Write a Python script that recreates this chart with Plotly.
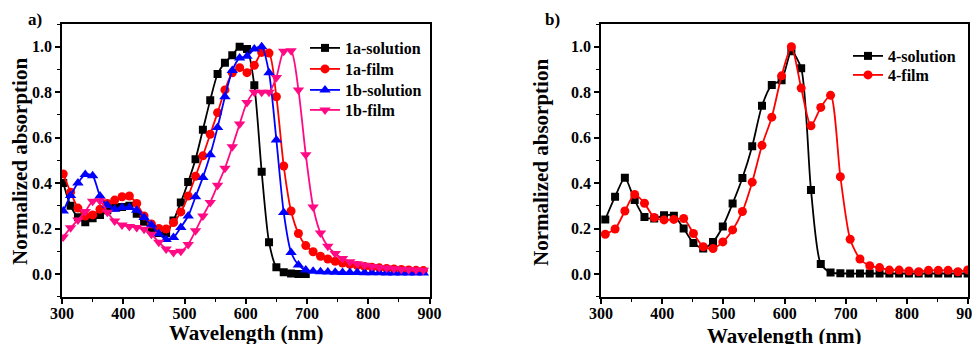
import plotly.graph_objects as go

# ---------------- data ----------------
WL_A = [302, 314, 326, 338, 350, 362, 374, 386, 398, 410, 422, 434, 446, 458, 470,
        482, 494, 506, 518, 530, 542, 554, 566, 578, 590, 602, 614, 626, 638, 650,
        662, 674, 686, 698, 710, 722, 734, 746, 758, 770, 782, 794, 806, 818, 830,
        842, 854, 866, 878, 890]

SOL_1A = [0.40, 0.30, 0.25, 0.228, 0.245, 0.26, 0.28, 0.292, 0.295, 0.30, 0.265, 0.23,
          0.20, 0.18, 0.18, 0.235, 0.315, 0.405, 0.505, 0.635, 0.765, 0.88, 0.93, 0.962,
          1.0, 0.99, 0.83, 0.45, 0.14, 0.03, 0.008, 0.002, 0.0, 0.0]

FILM_1A = [0.44, 0.36, 0.29, 0.255, 0.26, 0.285, 0.31, 0.325, 0.34, 0.343, 0.31, 0.255,
           0.22, 0.20, 0.198, 0.226, 0.273, 0.343, 0.43, 0.52, 0.615, 0.71, 0.81, 0.885,
           0.908, 0.886, 0.918, 0.975, 0.972, 0.78, 0.475, 0.277, 0.178, 0.125, 0.098,
           0.078, 0.066, 0.056, 0.048, 0.042, 0.037, 0.033, 0.03, 0.027, 0.024, 0.022,
           0.02, 0.018, 0.016, 0.015]

SOL_1B = [0.277, 0.345, 0.40, 0.438, 0.432, 0.343, 0.302, 0.285, 0.292, 0.292, 0.28,
          0.248, 0.215, 0.177, 0.152, 0.16, 0.205, 0.255, 0.34, 0.425, 0.525, 0.645,
          0.78, 0.895, 0.95, 0.958, 0.99, 1.0, 0.885, 0.59, 0.27, 0.095, 0.04, 0.017,
          0.012, 0.01, 0.009, 0.008, 0.007, 0.006, 0.006, 0.005, 0.005, 0.005, 0.004,
          0.004, 0.004, 0.004, 0.004, 0.004]

FILM_1B = [0.163, 0.203, 0.238, 0.275, 0.32, 0.322, 0.272, 0.233, 0.215, 0.209, 0.205,
           0.197, 0.175, 0.14, 0.11, 0.095, 0.10, 0.13, 0.19, 0.255, 0.315, 0.39, 0.465,
           0.56, 0.66, 0.755, 0.80, 0.80, 0.80, 0.865, 0.98, 0.982, 0.81, 0.525, 0.295,
           0.18, 0.122, 0.09, 0.068, 0.054, 0.045, 0.038, 0.033, 0.029, 0.026, 0.023,
           0.021, 0.019, 0.017, 0.016]

WL_B = [307, 323, 339, 355, 371, 387, 403, 419, 435, 451, 467, 483, 499, 515, 531,
        547, 563, 579, 595, 611, 627, 643, 659, 675, 691, 707, 723, 739, 755, 771,
        787, 803, 819, 835, 851, 867, 883, 899]

SOL_4 = [0.24, 0.34, 0.423, 0.325, 0.251, 0.244, 0.258, 0.256, 0.20, 0.136, 0.112,
         0.141, 0.209, 0.31, 0.422, 0.562, 0.74, 0.832, 0.853, 0.98, 0.905, 0.37,
         0.044, 0.006, 0.003, 0.002, 0.002, 0.002, 0.002, 0.002, 0.002, 0.002, 0.002,
         0.002, 0.002, 0.002, 0.002, 0.002]

FILM_4 = [0.175, 0.198, 0.277, 0.35, 0.311, 0.248, 0.238, 0.24, 0.244, 0.178, 0.12,
          0.112, 0.141, 0.194, 0.275, 0.404, 0.566, 0.69, 0.872, 1.0, 0.818, 0.652,
          0.733, 0.786, 0.428, 0.153, 0.066, 0.036, 0.028, 0.017, 0.017, 0.013, 0.01,
          0.016, 0.016, 0.016, 0.01, 0.018]

X_TICKS = [300, 400, 500, 600, 700, 800, 900]
Y_TICKS = [0.0, 0.2, 0.4, 0.6, 0.8, 1.0]
Y_TICK_TEXT = ["0.0", "0.2", "0.4", "0.6", "0.8", "1.0"]

# ---------------- styling ----------------
FONT = "Liberation Serif, Times New Roman, serif"
BLACK, RED, BLUE, PINK = "#000000", "#FF0000", "#0000FF", "#FF0A84"

# the page body has an 8px margin; positions below are in window pixels
OFF = 8
W, H = 980 - OFF, 344 - OFF
def px(x):
    return (x - OFF) / W
def py(y):
    return 1 - (y - OFF) / H

fig = go.Figure()

def add(x, y, name, color, symbol, size, xa, ya, legend):
    fig.add_trace(go.Scatter(
        x=x[:len(y)], y=y, name=name, mode="lines+markers", showlegend=True,
        line=dict(color=color, width=1.8, shape="spline", smoothing=0.7),
        marker=dict(color=color, symbol=symbol, size=size, line=dict(width=0)),
        xaxis=xa, yaxis=ya, legend=legend))

add(WL_A, SOL_1A, "1a-solution", BLACK, "square", 8, "x", "y", "legend")
add(WL_A, FILM_1A, "1a-film", RED, "circle", 9, "x", "y", "legend2")
add(WL_A, SOL_1B, "1b-solution", BLUE, "triangle-up", 10, "x", "y", "legend3")
add(WL_A, FILM_1B, "1b-film", PINK, "triangle-down", 10, "x", "y", "legend4")
add(WL_B, SOL_4, "4-solution", BLACK, "square", 8, "x2", "y2", "legend5")
add(WL_B, FILM_4, "4-film", RED, "circle", 9, "x2", "y2", "legend6")

tickfont = dict(family=FONT, size=16, color="black", weight="bold")

XD_A = [px(62), px(429.5)]
XD_B = [px(601), px(968.3)]
YD = [py(296.7), py(24)]

def xaxis(domain, anchor):
    return dict(domain=domain, anchor=anchor, range=[300, 900], tickvals=X_TICKS,
                ticks="outside", ticklen=5, tickwidth=1.5, tickcolor="black",
                ticklabelstandoff=-4, ticklabeloverflow="allow",
                minor=dict(dtick=50, tick0=300, ticks="outside", ticklen=3, tickwidth=1.2,
                           tickcolor="black"),
                showline=True, linecolor="black", linewidth=1.6, mirror=True,
                showgrid=False, zeroline=False, tickfont=tickfont, automargin=False)

def yaxis(domain, anchor):
    return dict(domain=domain, anchor=anchor, range=[-0.1, 1.1], tickvals=Y_TICKS,
                ticktext=Y_TICK_TEXT, ticklabeloverflow="allow",
                ticks="outside", ticklen=5, tickwidth=1.5, tickcolor="black",
                minor=dict(dtick=0.1, tick0=0, ticks="outside", ticklen=3, tickwidth=1.2,
                           tickcolor="black"),
                showline=True, linecolor="black", linewidth=1.6, mirror=True,
                showgrid=False, zeroline=False, tickfont=tickfont, automargin=False)

def top_axis(domain, overlay, anchor):
    return dict(domain=domain, overlaying=overlay, anchor=anchor, side="top",
                range=[300, 900], dtick=50, tick0=300, ticks="inside", ticklen=4,
                tickwidth=1.2, tickcolor="black", showticklabels=False, automargin=False,
                showline=False, showgrid=False, zeroline=False)

def right_axis(domain, overlay, anchor):
    return dict(domain=domain, overlaying=overlay, anchor=anchor, side="right",
                range=[-0.1, 1.1], dtick=0.1, tick0=0, ticks="inside", ticklen=4,
                tickwidth=1.2, tickcolor="black", showticklabels=False, automargin=False,
                showline=False, showgrid=False, zeroline=False)

legfont = dict(family=FONT, size=16, color="black", weight="bold")

def leg(x, y):
    return dict(x=px(x), y=py(y), xanchor="left", yanchor="middle",
                bgcolor="rgba(0,0,0,0)", font=legfont, itemwidth=30,
                borderwidth=0, visible=True)

def ann(text, x, y, size, angle=0):
    return dict(text=text, x=px(x), y=py(y), xref="paper", yref="paper",
                xanchor="center", yanchor="middle", showarrow=False, textangle=angle,
                font=dict(family=FONT, size=size, color="black", weight="bold"))

fig.update_layout(
    width=W, height=H, margin=dict(l=0, r=0, t=0, b=0, autoexpand=False),
    plot_bgcolor="white", paper_bgcolor="white", showlegend=True,
    xaxis=xaxis(XD_A, "y"), yaxis=yaxis(YD, "x"),
    xaxis2=xaxis(XD_B, "y2"), yaxis2=yaxis(YD, "x2"),
    xaxis3=top_axis(XD_A, "x", "y"), yaxis3=right_axis(YD, "y", "x"),
    xaxis4=top_axis(XD_B, "x2", "y2"), yaxis4=right_axis(YD, "y2", "x2"),
    legend=leg(305, 48), legend2=leg(305, 69), legend3=leg(305, 90),
    legend4=leg(305, 110),
    legend5=leg(848, 56), legend6=leg(848, 75),
    annotations=[
        ann("a)", 35, 20, 17),
        ann("b)", 552, 20, 17),
        ann("Normalized absorption", 20, 162, 21, -90),
        ann("Normalized absorption", 541, 163, 21, -90),
        ann("Wavelength (nm)", 246, 333, 21),
        ann("Wavelength (nm)", 784, 336, 21),
    ],
)

fig.write_html("out.html")
